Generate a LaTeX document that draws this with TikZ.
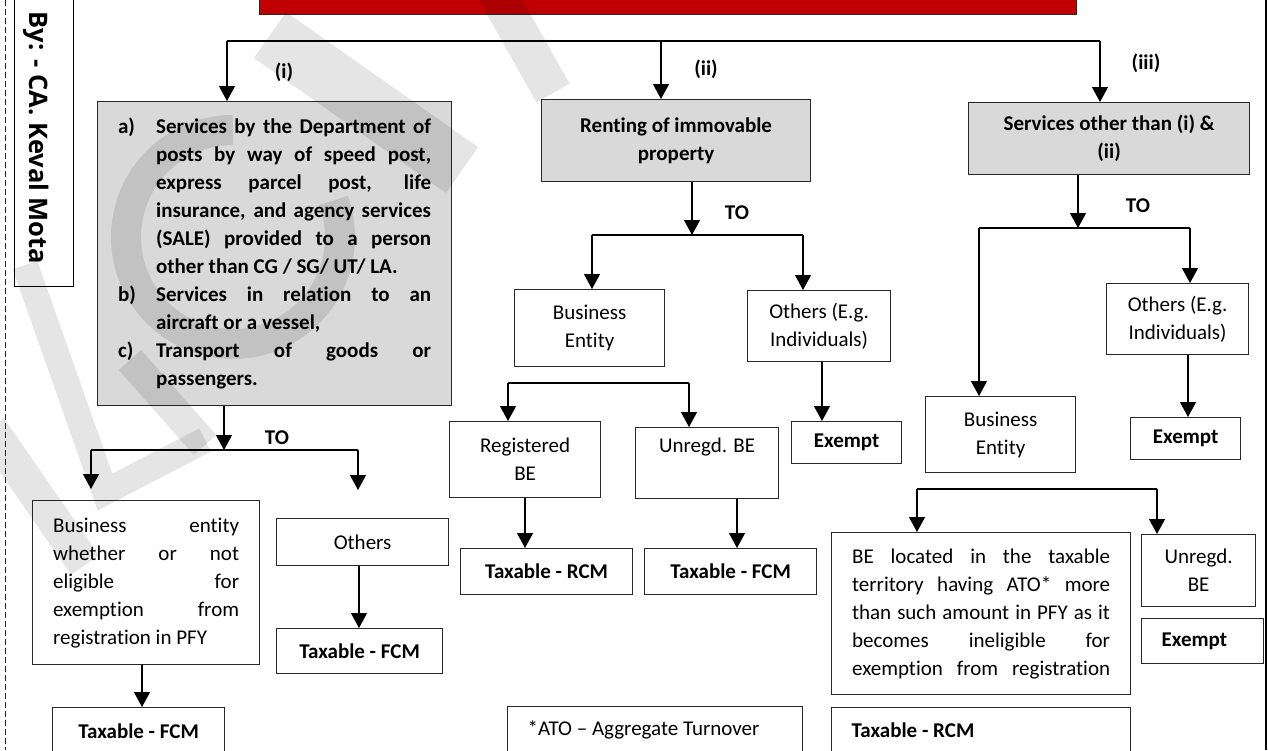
\documentclass[tikz,border=0pt]{standalone}
\usepackage{fontspec}
\setmainfont{Carlito}[Ligatures={NoCommon}]
\newfontfamily\authorfont{Open Sans}
\usetikzlibrary{arrows.meta,calc}

% the font's own (stretchable) interword spacing inside wrapped nodes
\newcommand\ns{\spaceskip=0pt\xspaceskip=0pt\relax}
% one stretched (justified) line of text
\newcommand\jl[1]{\makebox[\linewidth][s]{\ns#1}}
\newcommand\jw[2]{\makebox[#1][s]{\ns#2}}

\definecolor{boxgrey}{RGB}{217,217,217}
\definecolor{titlered}{RGB}{192,0,0}
\definecolor{edge}{RGB}{40,40,40}

\begin{document}
\begin{tikzpicture}[x=1pt,y=-1pt,
  txt/.style={font=\fontsize{21}{28}\selectfont},
  btxt/.style={font=\bfseries\fontsize{21}{28}\selectfont},
  plainbox/.style={draw=edge, line width=1.2pt, fill=white, inner sep=0pt,
    align=center, anchor=north west, txt},
  greybox/.style={plainbox, fill=boxgrey, btxt},
  arr/.style={line width=1.2pt, -{Triangle[width=16pt,length=15pt]}},
  wire/.style={line width=1.2pt},
  lbl/.style={btxt, inner sep=0pt},
  wm/.style={draw=black, draw opacity=0.1, line cap=butt}]
\useasboundingbox (0,0) rectangle (1268,750);

% page frame
\draw[edge, line width=0.8pt, dash pattern=on 6pt off 3pt] (5,0) -- (5,750);
\draw[black, line width=1.6pt] (1266,0) -- (1266,750);

% title bar and author strip
\node[draw=edge, line width=1.2pt, fill=titlered, anchor=north west, inner sep=0pt,
  minimum width=817, minimum height=34] (title) at (259,-20) {};
\node[draw=black, line width=1.2pt, fill=white, anchor=north west, inner sep=0pt,
  minimum width=59, minimum height=291] (authorbox) at (14,-5) {};
\node[rotate=-90, inner sep=0pt, font=\authorfont\bfseries\fontsize{25.5}{30}\selectfont]
  (author) at (36,138) {By: - CA. Keval Mota};

% ---- first level ----
\node[greybox, align=left, text width=313, inner xsep=20.5, minimum height=304]
  (svcA) at (97,101) {\ns
  \makebox[38pt][l]{a)}\jw{275pt}{Services by the Department of}\\
  \hspace*{38pt}\jw{275pt}{posts by way of speed post,}\\
  \hspace*{38pt}\jw{275pt}{express parcel post, life}\\
  \hspace*{38pt}\jw{275pt}{insurance, and agency services}\\
  \hspace*{38pt}\jw{275pt}{(SALE) provided to a person}\\
  \hspace*{38pt}other than CG / SG/ UT/ LA.\\
  \makebox[38pt][l]{b)}\jw{275pt}{Services in relation to an}\\
  \hspace*{38pt}aircraft or a vessel,\\
  \makebox[38pt][l]{c)}\jw{275pt}{Transport of goods or}\\
  \hspace*{38pt}passengers.};
\node[greybox, minimum width=269, minimum height=82] (svcB) at (541,99)
  {Renting of immovable\\property};
\node[greybox, minimum width=281, minimum height=72] (svcC) at (968,102)
  {Services other than (i) \&\\(ii)};

\coordinate (busL) at (227,41);
\coordinate (busM) at (661,41);
\coordinate (busR) at (1100,41);
\draw[wire] (busL) -- (busR);
\draw[arr] (busL) -- (busL |- svcA.north);
\draw[arr] (busM) -- (busM |- svcB.north);
\draw[arr] (busR) -- (busR |- svcC.north);
\node[lbl] (labA) at (284,72) {(i)};
\node[lbl] (labB) at (706,69) {(ii)};
\node[lbl] (labC) at (1146,63) {(iii)};

% ---- branch (i) ----
\node[plainbox, align=left, text width=186, inner xsep=20.5, minimum height=164]
  (beA) at (32,500) {\ns
  \jl{Business entity}\\
  \jl{whether or not}\\
  \jl{eligible for}\\
  \jl{exemption from}\\
  registration in PFY};
\node[plainbox, minimum width=172, minimum height=47] (othA) at (276,518) {Others};
\node[plainbox, btxt, minimum width=172, minimum height=48] (fcmA1) at (52,707) {Taxable - FCM};
\node[plainbox, btxt, minimum width=166, minimum height=45] (fcmA2) at (276,628) {Taxable - FCM};

\coordinate (toA) at (224,450);
\coordinate (toAL) at (91,450);
\coordinate (toAR) at (358,450);
\draw[arr] (toA |- svcA.south) -- (toA);
\draw[wire] (toAL) -- (toAR);
\draw[arr, shorten >=11pt] (toAL) -- (toAL |- beA.north);
\draw[arr, shorten >=28pt] (toAR) -- (toAR |- othA.north);
\node[lbl] (toAlbl) at (277,438) {TO};
\draw[arr] (142,0 |- beA.south) -- (142,0 |- fcmA1.north);
\draw[arr] (359,0 |- othA.south) -- (359,0 |- fcmA2.north);

% ---- branch (ii) ----
\node[plainbox, minimum width=150, minimum height=77] (beB) at (514,289) {Business\\Entity};
\node[plainbox, minimum width=143, minimum height=71] (othB) at (747,290) {Others (E.g.\\Individuals)};
\node[plainbox, minimum width=151, minimum height=76] (regB) at (449,421) {Registered\\BE};
\node[plainbox, minimum width=143, minimum height=71] (unrB) at (635,427) {Unregd. BE\\\strut};
\node[plainbox, btxt, minimum width=172, minimum height=46] (rcmB) at (460,548) {Taxable - RCM};
\node[plainbox, btxt, minimum width=172, minimum height=46] (fcmB) at (644,548) {Taxable - FCM};
\node[plainbox, btxt, minimum width=110, minimum height=42] (exB) at (791,421) {Exempt};
\node[plainbox, align=left, text width=255, inner xsep=20, minimum height=46]
  (ato) at (507,706) {\ns *ATO – Aggregate Turnover};

\coordinate (toB) at (692,235);
\coordinate (toBL) at (592,235);
\coordinate (toBR) at (803,235);
\draw[arr] (toB |- svcB.south) -- (toB);
\draw[wire] (toBL) -- (toBR);
\draw[arr] (toBL) -- (toBL |- beB.north);
\draw[arr] (toBR) -- (toBR |- othB.north);
\node[lbl] (toBlbl) at (737,213) {TO};
\draw[arr] (822,0 |- othB.south) -- (822,0 |- exB.north);
\coordinate (beBL) at (508,383);
\coordinate (beBR) at (689,383);
\draw[wire] (beBL) -- (beBR);
\draw[arr] (beBL) -- (beBL |- regB.north);
\draw[arr] (beBR) -- (beBR |- unrB.north);
\draw[arr] (525,0 |- regB.south) -- (525,0 |- rcmB.north);
\draw[arr] (737,0 |- unrB.south) -- (737,0 |- fcmB.north);

% ---- branch (iii) ----
\node[plainbox, minimum width=150, minimum height=76] (beC) at (925,396) {Business\\Entity};
\node[plainbox, minimum width=142, minimum height=71] (othC) at (1106,283) {Others (E.g.\\Individuals)};
\node[plainbox, btxt, minimum width=110, minimum height=42] (exC) at (1130,417) {Exempt};
\node[plainbox, align=left, text width=258, inner xsep=20.5, minimum height=162]
  (atoC) at (831,532) {\ns
  \jl{BE located in the taxable}\\
  \jl{territory having ATO* more}\\
  \jl{than such amount in PFY as it}\\
  \jl{becomes ineligible for}\\
  \jl{exemption from registration}};
\node[plainbox, minimum width=114, minimum height=72] (unrC) at (1141,534) {Unregd.\\BE};
\node[plainbox, btxt, align=left, text width=82, inner xsep=20, minimum height=45]
  (exC2) at (1141,618) {\ns Exempt};
\node[plainbox, btxt, align=left, text width=259, inner xsep=20, minimum height=46]
  (rcmC) at (831,707) {\ns Taxable - RCM};

\coordinate (toC) at (1078,228);
\coordinate (toCL) at (979,228);
\coordinate (toCR) at (1190,228);
\draw[arr] (toC |- svcC.south) -- (toC);
\draw[wire] (toCL) -- (toCR);
\draw[arr] (toCL) -- (toCL |- beC.north);
\draw[arr] (toCR) -- (toCR |- othC.north);
\node[lbl] (toClbl) at (1138,206) {TO};
\draw[arr] (1188,0 |- othC.south) -- (1188,0 |- exC.north);
\coordinate (beCL) at (917,489);
\coordinate (beCR) at (1157,489);
\draw[wire] (beCL) -- (beCR);
\draw[arr] (beCL) -- (beCL |- atoC.north);
\draw[arr] (beCR) -- (beCR |- unrC.north);

% ---- faint MCT watermark ----
\draw[wm, line width=56] (270,35) -- (462,170);
\draw[wm, line width=38] (495,-10) -- (553,93);
\draw[wm, line width=30] (233,237) ++(-20:107) arc[start angle=-20, end angle=270, radius=107];
\draw[wm, line width=26, line join=miter] (25,265) -- (105,492) -- (205,440);
\draw[wm, line width=30] (130,360) -- (205,445);
\draw[wm, line width=34] (-10,428) -- (85,565);
\end{tikzpicture}
\end{document}
